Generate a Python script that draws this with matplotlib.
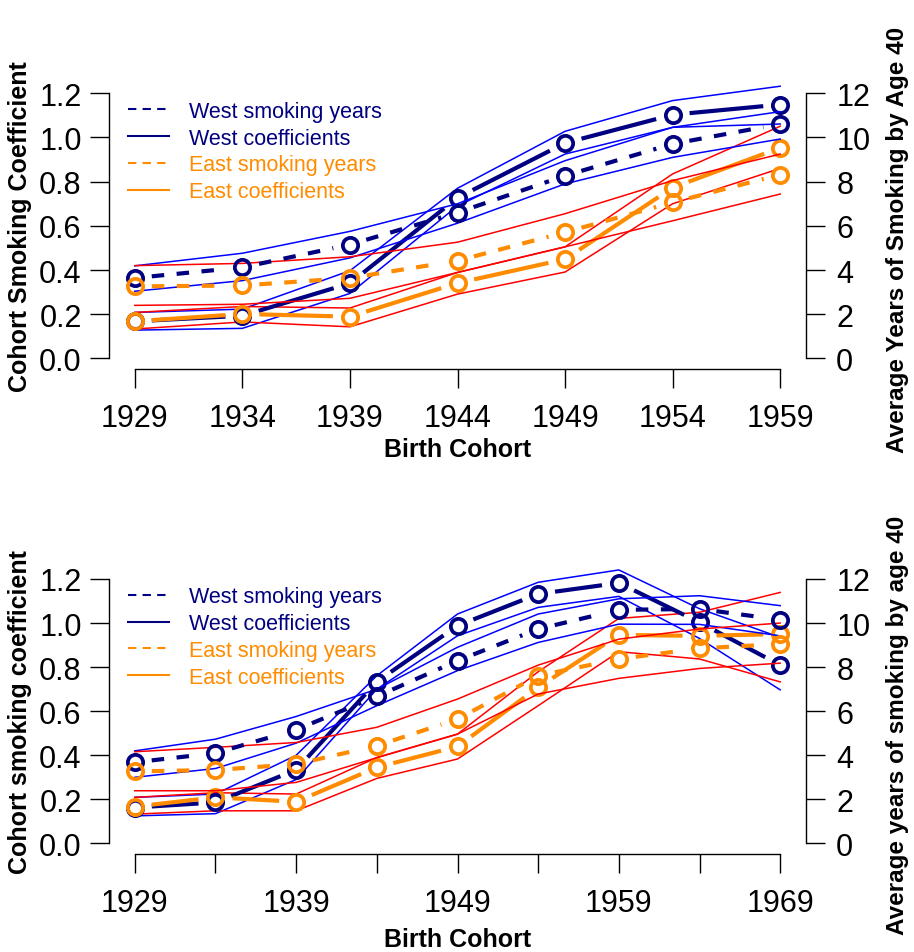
import numpy as np
import matplotlib
matplotlib.use("Agg")
import matplotlib.pyplot as plt
from matplotlib.lines import Line2D
from matplotlib.ticker import FormatStrFormatter

plt.rcParams['font.family'] = ['Liberation Sans', 'DejaVu Sans']

# ---- top panel: cohorts 1929-1959 ----
cohorts_top = [1929, 1934, 1939, 1944, 1949, 1954, 1959]
west_coef_top = [0.168, 0.193, 0.340, 0.727, 0.975, 1.103, 1.149]
west_coef_lo_top = [0.128, 0.136, 0.294, 0.690, 0.925, 1.046, 1.061]
west_coef_hi_top = [0.208, 0.223, 0.397, 0.770, 1.028, 1.167, 1.232]
west_yrs_top = [3.64, 4.12, 5.15, 6.60, 8.27, 9.71, 10.61]
west_yrs_lo_top = [3.04, 3.52, 4.55, 6.12, 7.90, 9.10, 9.93]
west_yrs_hi_top = [4.19, 4.76, 5.75, 7.00, 8.95, 10.46, 11.17]
east_coef_top = [0.168, 0.201, 0.189, 0.341, 0.449, 0.773, 0.953]
east_coef_lo_top = [0.133, 0.165, 0.143, 0.291, 0.391, 0.700, 0.860]
east_coef_hi_top = [0.208, 0.235, 0.228, 0.389, 0.505, 0.835, 1.051]
east_yrs_top = [3.26, 3.30, 3.64, 4.42, 5.71, 7.06, 8.32]
east_yrs_lo_top = [2.40, 2.45, 2.72, 3.89, 5.05, 6.23, 7.44]
east_yrs_hi_top = [4.20, 4.30, 4.60, 5.26, 6.55, 8.05, 9.25]

# ---- bottom panel: cohorts 1929-1969 ----
cohorts_bot = [1929, 1934, 1939, 1944, 1949, 1954, 1959, 1964, 1969]
west_coef_bot = [0.163, 0.186, 0.334, 0.734, 0.988, 1.132, 1.182, 1.003, 0.809]
west_coef_lo_bot = [0.125, 0.135, 0.290, 0.700, 0.942, 1.071, 1.121, 0.930, 0.697]
west_coef_hi_bot = [0.209, 0.224, 0.400, 0.761, 1.041, 1.185, 1.241, 1.065, 0.935]
west_yrs_bot = [3.68, 4.10, 5.16, 6.67, 8.29, 9.73, 10.60, 10.64, 10.15]
west_yrs_lo_bot = [3.00, 3.40, 4.55, 6.25, 7.84, 9.12, 9.95, 9.94, 9.42]
west_yrs_hi_bot = [4.20, 4.73, 5.76, 7.00, 8.90, 10.41, 11.10, 11.24, 10.79]
east_coef_bot = [0.167, 0.209, 0.189, 0.345, 0.440, 0.708, 0.946, 0.942, 0.950]
east_coef_lo_bot = [0.133, 0.148, 0.148, 0.295, 0.383, 0.625, 0.870, 0.837, 0.733]
east_coef_hi_bot = [0.209, 0.230, 0.224, 0.390, 0.496, 0.779, 1.021, 1.049, 1.139]
east_yrs_bot = [3.27, 3.33, 3.60, 4.43, 5.64, 7.61, 8.37, 8.85, 9.05]
east_yrs_lo_bot = [2.39, 2.39, 2.77, 3.89, 4.96, 6.78, 7.49, 7.94, 8.18]
east_yrs_hi_bot = [4.16, 4.36, 4.58, 5.27, 6.55, 8.09, 9.27, 9.73, 10.00]

coef_ticks = [0.0, 0.2, 0.4, 0.6, 0.8, 1.0, 1.2]
yrs_ticks = [0, 2, 4, 6, 8, 10, 12]
legend_labels = ["West smoking years", "West coefficients",
                 "East smoking years", "East coefficients"]

NAVY, BLUE, ORANGE, RED = "#000080", "#0000FF", "#FF8C00", "#FF0000"
W, H = 914, 953
fig = plt.figure(figsize=(W / 100, H / 100), dpi=100)


def gapped(ax, x, y, gap, **kw):
    # R type="b": line broken around each point
    pts = ax.transData.transform(np.column_stack([x, y]))
    inv = ax.transData.inverted()
    for p, q in zip(pts[:-1], pts[1:]):
        d = q - p
        L = np.hypot(*d)
        if L <= 2 * gap:
            continue
        u = d / L
        seg = inv.transform([p + u * gap, q - u * gap])
        ax.plot(seg[:, 0], seg[:, 1], solid_capstyle='butt', dash_capstyle='butt', **kw)


def type_b(ax, x, y, color, dashed):
    ls = (0, (3, 3)) if dashed else '-'
    ax.plot(x, y, ls='none', marker='o', ms=11, mfc='none', mec=color, mew=2.7)
    gapped(ax, x, y, 17, color=color, lw=3, ls=ls)


def panel(top, bottom, cohorts, labelled, ylab_l, ylab_r, xlab_off,
          wc, wcl, wch, wy, wyl, wyh, ec, ecl, ech, ey, eyl, eyh):
    ax = fig.add_axes([109 / W, 1 - bottom / H, (806 - 109) / W, (bottom - top) / H])
    span = cohorts[-1] - cohorts[0]
    ax.set_xlim(cohorts[0] - 0.04 * span, cohorts[-1] + 0.04 * span)
    ax.set_ylim(-0.048, 1.248)
    ax2 = ax.twinx()
    ax2.set_ylim(-0.48, 12.48)

    # coefficient CIs and coefficients (left axis)
    for lo, hi, c in [(wcl, wch, BLUE), (ecl, ech, RED)]:
        ax.plot(cohorts, lo, color=c, lw=1.1)
        ax.plot(cohorts, hi, color=c, lw=1.1)
    # smoking-years CIs (right axis)
    for lo, hi, c in [(wyl, wyh, BLUE), (eyl, eyh, RED)]:
        ax2.plot(cohorts, lo, color=c, lw=1.1)
        ax2.plot(cohorts, hi, color=c, lw=1.1)
    type_b(ax, cohorts, wc, NAVY, False)
    type_b(ax2, cohorts, wy, NAVY, True)
    type_b(ax, cohorts, ec, ORANGE, False)
    type_b(ax2, cohorts, ey, ORANGE, True)

    for a in (ax, ax2):
        a.spines['top'].set_visible(False)
        for s in a.spines.values():
            s.set_linewidth(1.0)
    ax.spines['right'].set_visible(False)
    ax2.spines['left'].set_visible(False)
    ax2.spines['bottom'].set_visible(False)
    ax.spines['left'].set_bounds(0, 1.2)
    ax.spines['bottom'].set_bounds(cohorts[0], cohorts[-1])
    ax2.spines['right'].set_bounds(0, 12)

    ax.set_yticks(coef_ticks)
    ax.yaxis.set_major_formatter(FormatStrFormatter('%.1f'))
    ax2.set_yticks(yrs_ticks)
    ax.set_xticks(cohorts)
    ax.set_xticklabels([str(c) if c in labelled else '' for c in cohorts])
    ax.tick_params(axis='x', length=13.7, width=1.0, labelsize=22, pad=10.5)
    ax.tick_params(axis='y', length=13.7, width=1.0, labelsize=22, pad=6)
    ax2.tick_params(axis='y', length=13.7, width=1.0, labelsize=22, pad=8)

    ax.set_ylabel(ylab_l, fontsize=18, fontweight='bold')
    ax.yaxis.set_label_coords(-0.11, 0.5)
    ax2.set_ylabel(ylab_r, fontsize=17.5, fontweight='bold')
    ax2.yaxis.set_label_coords(1.1148, 0.455)
    ax.set_xlabel("Birth Cohort", fontsize=18, fontweight='bold')
    ax.xaxis.label.set_va('center')
    ax.xaxis.set_label_coords(0.5, -xlab_off / (bottom - top))

    handles = [Line2D([], [], color=NAVY, lw=1.5, ls=(0, (4, 3))),
               Line2D([], [], color=NAVY, lw=1.5),
               Line2D([], [], color=ORANGE, lw=1.5, ls=(0, (4, 3))),
               Line2D([], [], color=ORANGE, lw=1.5)]
    ax2.legend(handles, legend_labels, loc='upper left',
               bbox_to_anchor=(19 / 697, 1 - 18 / (bottom - top)),
               frameon=False, fontsize=15.5, handlelength=1.9,
               handletextpad=0.95, labelspacing=0.27, borderpad=0,
               borderaxespad=0, labelcolor=[NAVY, NAVY, ORANGE, ORANGE])


panel(83.7, 370, cohorts_top, cohorts_top,
      "Cohort Smoking Coefficient", "Average Years of Smoking by Age 40", 80,
      west_coef_top, west_coef_lo_top, west_coef_hi_top,
      west_yrs_top, west_yrs_lo_top, west_yrs_hi_top,
      east_coef_top, east_coef_lo_top, east_coef_hi_top,
      east_yrs_top, east_yrs_lo_top, east_yrs_hi_top)

panel(569.4, 855, cohorts_bot, cohorts_bot[::2],
      "Cohort smoking coefficient", "Average years of smoking by age 40", 85,
      west_coef_bot, west_coef_lo_bot, west_coef_hi_bot,
      west_yrs_bot, west_yrs_lo_bot, west_yrs_hi_bot,
      east_coef_bot, east_coef_lo_bot, east_coef_hi_bot,
      east_yrs_bot, east_yrs_lo_bot, east_yrs_hi_bot)

fig.savefig("out.png", dpi=100)
